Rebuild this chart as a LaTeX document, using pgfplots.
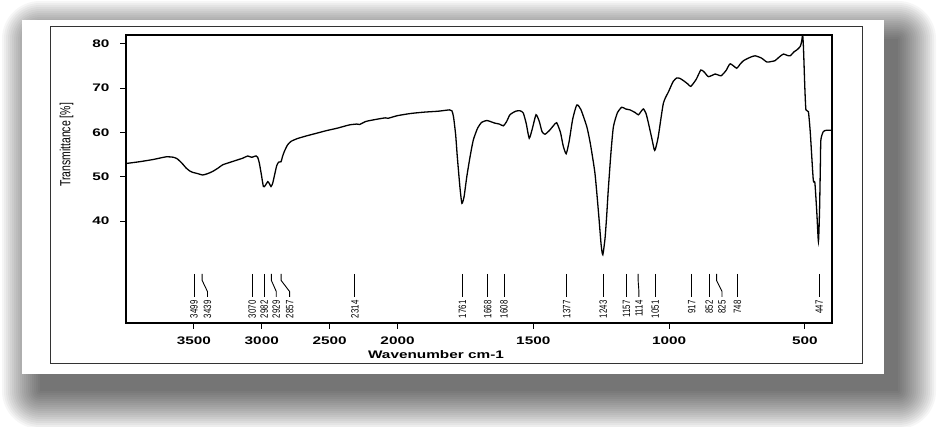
\documentclass[border=0pt]{standalone}
\usepackage{pgfplots}
\pgfplotsset{compat=1.18}
\usepackage{fontspec}
\setmainfont{Liberation Sans}
\newcommand{\sx}[1]{\scalebox{1.4}[1]{#1}}
\begin{document}
\begin{tikzpicture}
\useasboundingbox (0,0) rectangle (938bp,427bp);
\fill[white] (0,0) rectangle (938bp,427bp);
\foreach \r in {0,2,...,38} {
  \fill[black, opacity=0.036, rounded corners=\r bp] (40bp-\r bp,36bp-\r bp) rectangle (898bp+\r bp,388bp+\r bp);
}
\fill[white] (22bp,53bp) rectangle (884bp,407bp);
\draw[line width=0.8bp, black!80] (50bp,64bp) rectangle (862bp,401bp);
\begin{axis}[
  at={(126bp,104bp)}, anchor=south west, scale only axis,
  width=706bp, height=288bp,
  xmin=0, xmax=2600, ymin=17, ymax=82,
  x filter/.expression={x>=2000 ? (4000-x)/2 : (3000-x)},
  xtick={250,500,750,1000,1500,2000,2500},
  xticklabels={\sx{3500},\sx{3000},\sx{2500},\sx{2000},\sx{1500},\sx{1000},\sx{500}},
  ytick={40,50,60,70,80},
  yticklabels={\sx{40},\sx{50},\sx{60},\sx{70},\sx{80}},
  tick align=outside, xtick pos=lower, ytick pos=left,
  major tick length=6bp,
  tick style={black, line width=1bp},
  axis line style={line width=1.2bp},
  ticklabel style={font=\fontsize{11}{11}\selectfont\bfseries},
  xticklabel style={yshift=-4bp},
  yticklabel style={xshift=-7bp},
]
\addplot[black, line width=1.3bp, smooth, tension=0.35] coordinates {
(4000,53.0) (3900,53.4) (3800,53.9) (3705,54.5) (3650,54.4) (3620,54.0) (3580,52.8)
(3558,52.0) (3530,51.3) (3509,51.0) (3470,50.7) (3435,50.4) (3400,50.7) (3362,51.2)
(3320,52.0) (3288,52.7) (3240,53.2) (3190,53.7) (3140,54.2) (3104,54.7) (3085,54.5)
(3072,54.4) (3055,54.6) (3042,54.7) (3030,54.4) (3018,53.1) (3003,50.5) (2988,47.8)
(2975,48.0) (2956,48.9) (2945,48.5) (2932,47.8) (2920,48.5) (2908,50.1) (2890,52.5)
(2876,53.3) (2858,53.4) (2848,54.5) (2834,55.7) (2810,57.2) (2784,58.0) (2740,58.6)
(2674,59.2) (2600,59.8) (2526,60.4) (2440,61.0) (2356,61.7) (2300,61.9) (2280,61.8)
(2232,62.5) (2150,63.0) (2090,63.3) (2070,63.2) (2000,63.8) (1950,64.3) (1900,64.6)
(1850,64.8) (1809,65.1) (1800,64.9) (1794,63.6) (1786,59.5) (1780,54.6) (1770,47.5)
(1763,44.0) (1755,45.5) (1745,50.0) (1733,54.5) (1721,58.3) (1705,61.0) (1690,62.3)
(1671,62.7) (1655,62.4) (1641,62.1) (1625,61.9) (1610,61.5) (1598,62.5) (1586,64.0)
(1565,64.8) (1549,64.9) (1537,64.4) (1526,62.0) (1515,58.7) (1503,61.0) (1490,64.0)
(1478,62.5) (1468,60.2) (1457,59.6) (1440,60.5) (1425,61.6) (1414,62.2) (1400,60.0)
(1390,57.0) (1379,55.2) (1368,58.0) (1355,63.0) (1340,66.2) (1325,65.2) (1303,61.3)
(1290,57.5) (1273,50.8) (1260,42.0) (1250,34.5) (1244,32.4) (1236,36.0) (1230,41.0)
(1224,47.0) (1214,55.5) (1205,61.3) (1190,64.5) (1174,65.7) (1160,65.3) (1144,65.1)
(1125,64.5) (1113,64.0) (1100,65.0) (1094,65.3) (1085,64.3) (1076,62.1) (1063,58.5)
(1055,56.2) (1051,56.1) (1040,59.0) (1021,66.6) (1002,69.2) (985,71.5) (972,72.3)
(960,72.2) (947,71.7) (930,70.9) (920,70.4) (900,72.0) (883,74.1) (870,73.6)
(855,72.6) (830,73.2) (820,73.0) (808,72.8) (790,74.0) (775,75.5) (751,74.5)
(740,75.3) (726,76.2) (700,77.0) (683,77.3) (660,76.8) (640,75.9) (625,76.0)
(610,76.2) (595,77.0) (579,77.7) (565,77.4) (554,77.3) (540,78.2) (530,78.6)
(517,79.4) (512,80.5) (508,82.0) (505,79.0) (500,70.0) (496,65.1) (487,64.7)
(480,60.0) (469,49.3) (463,48.6) (456,42.0) (450,35.4) (446,42.0) (443,52.0)
(441,58.3) (432,60.2) (420,60.5) (400,60.5)
};
% peak marker lines
\addplot[black, line width=0.9bp] coordinates {(3499,28.1) (3499,22.9)};
\addplot[black, line width=0.9bp] coordinates {(3439,28.1) (3439,26.6) (3400,24.1) (3400,22.9)};
\addplot[black, line width=0.9bp] coordinates {(3070,28.1) (3070,22.9)};
\addplot[black, line width=0.9bp] coordinates {(2982,28.1) (2982,22.9)};
\addplot[black, line width=0.9bp] coordinates {(2929,28.1) (2929,26.6) (2893,24.1) (2893,22.9)};
\addplot[black, line width=0.9bp] coordinates {(2857,28.1) (2857,26.6) (2795,24.1) (2795,22.9)};
\addplot[black, line width=0.9bp] coordinates {(2314,28.1) (2314,22.9)};
\addplot[black, line width=0.9bp] coordinates {(1761,28.1) (1761,22.9)};
\addplot[black, line width=0.9bp] coordinates {(1668,28.1) (1668,22.9)};
\addplot[black, line width=0.9bp] coordinates {(1608,28.1) (1608,22.9)};
\addplot[black, line width=0.9bp] coordinates {(1377,28.1) (1377,22.9)};
\addplot[black, line width=0.9bp] coordinates {(1243,28.1) (1243,22.9)};
\addplot[black, line width=0.9bp] coordinates {(1157,28.1) (1157,22.9)};
\addplot[black, line width=0.9bp] coordinates {(1114,28.1) (1114,26.6) (1111,24.1) (1111,22.9)};
\addplot[black, line width=0.9bp] coordinates {(1051,28.1) (1051,22.9)};
\addplot[black, line width=0.9bp] coordinates {(917,28.1) (917,22.9)};
\addplot[black, line width=0.9bp] coordinates {(852,28.1) (852,22.9)};
\addplot[black, line width=0.9bp] coordinates {(825,28.1) (825,26.6) (805,24.1) (805,22.9)};
\addplot[black, line width=0.9bp] coordinates {(748,28.1) (748,22.9)};
\addplot[black, line width=0.9bp] coordinates {(447,28.1) (447,22.9)};
% peak labels
\addplot[draw=none, mark=none, point meta=explicit symbolic,
  nodes near coords={\scalebox{1}[1.35]{\pgfplotspointmeta}},
  nodes near coords style={rotate=90, anchor=east, inner sep=0pt, black,
  font=\fontsize{7.9}{8}\selectfont}] coordinates {
(3499,22.1) [3499] (3400,22.1) [3439] (3070,22.1) [3070] (2982,22.1) [2982]
(2893,22.1) [2929] (2795,22.1) [2857] (2314,22.1) [2314] (1761,22.1) [1761]
(1668,22.1) [1668] (1608,22.1) [1608] (1377,22.1) [1377] (1243,22.1) [1243]
(1157,22.1) [1157] (1111,22.1) [1114] (1051,22.1) [1051] (917,22.1) [917]
(852,22.1) [852] (805,22.1) [825] (748,22.1) [748] (447,22.1) [447]
};
\end{axis}
\node[rotate=90, font=\fontsize{10.5}{11}\selectfont, inner sep=0pt] at (66.7bp,282bp) {\scalebox{1}[1.4]{Transmittance [\%]}};
\node[font=\fontsize{11}{11}\selectfont\bfseries, inner sep=0pt] at (436bp,72bp) {\sx{Wavenumber cm-1}};
\end{tikzpicture}
\end{document}
